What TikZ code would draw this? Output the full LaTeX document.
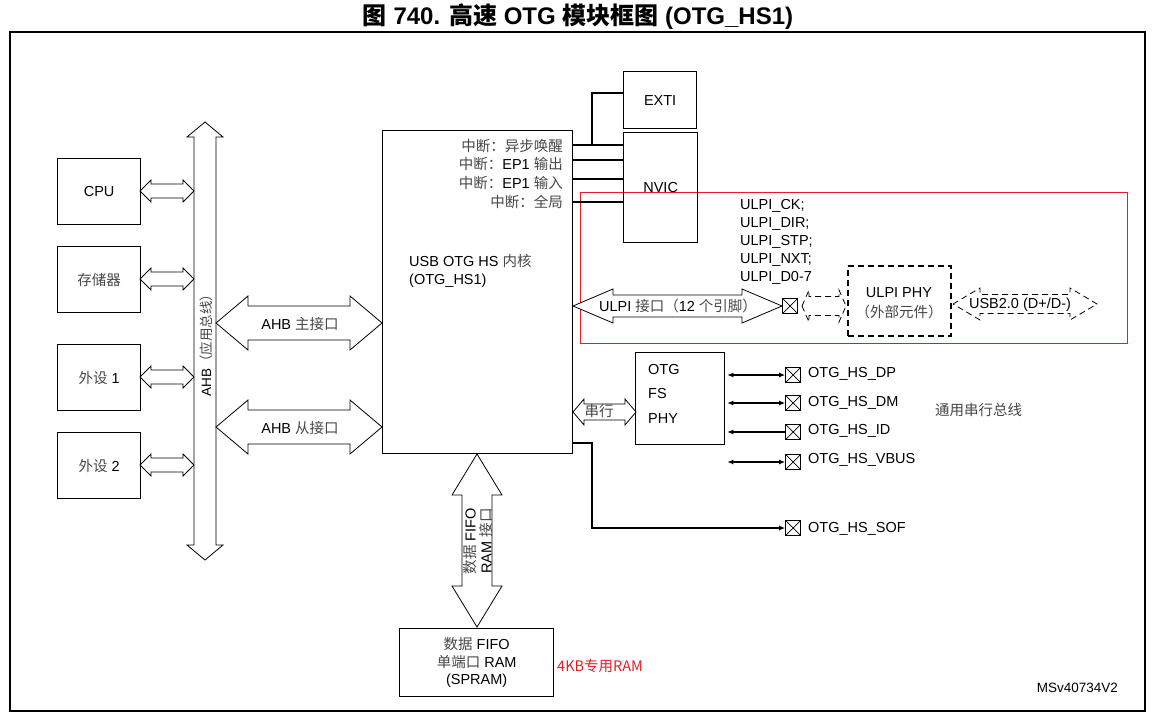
\documentclass[tikz,border=0pt]{standalone}
\usepackage{fontspec}
\setmainfont{Liberation Sans}
\newfontfamily\cjk{Noto Sans CJK SC}
\usetikzlibrary{arrows.meta}
\newcommand\zh[1]{{\cjk\color{black!72}#1}}
\newcommand\zhb[1]{{\cjk #1}}
\definecolor{redbox}{RGB}{228,30,36}
% horizontal fat double arrow: [opt]{x1}{x2}{y}{shaft half}{head half}{head length}
\newcommand\fatH[7][]{%
  \draw[fat,#1] (#2,#4) -- ({#2+#7},{#4-#6}) -- ({#2+#7},{#4-#5}) -- ({#3-#7},{#4-#5})
    -- ({#3-#7},{#4-#6}) -- (#3,#4) -- ({#3-#7},{#4+#6}) -- ({#3-#7},{#4+#5})
    -- ({#2+#7},{#4+#5}) -- ({#2+#7},{#4+#6}) -- cycle;}
% vertical fat double arrow: [opt]{x}{y1}{y2}{shaft half}{head half}{head length}
\newcommand\fatV[7][]{%
  \draw[fat,#1] (#2,#3) -- ({#2+#6},{#3+#7}) -- ({#2+#5},{#3+#7}) -- ({#2+#5},{#4-#7})
    -- ({#2+#6},{#4-#7}) -- (#2,#4) -- ({#2-#6},{#4-#7}) -- ({#2-#5},{#4-#7})
    -- ({#2-#5},{#3+#7}) -- ({#2-#6},{#3+#7}) -- cycle;}
\begin{document}
\begin{tikzpicture}[x=1pt,y=-1pt,
  font=\fontsize{14.5}{17}\selectfont,
  >={Latex[length=6pt,width=5pt]},
  box/.style={draw, line width=1.3pt, inner sep=0pt, anchor=north west},
  fat/.style={draw, line width=0.8pt, fill=white},
  pinbox/.style={draw, line width=0.9pt, minimum size=15pt, inner sep=0pt,
    path picture={\draw[line width=0.7pt] (path picture bounding box.south west) -- (path picture bounding box.north east)
      (path picture bounding box.north west) -- (path picture bounding box.south east);}},
  lbl/.style={inner sep=0pt},
  wire/.style={line width=1.1pt},
  dsh/.style={dash pattern=on 6pt off 4pt}
]
\useasboundingbox (0,0) rectangle (1155,725);
\fill[white] (0,0) rectangle (1155,725);

% title and frame
\node[lbl, font=\fontsize{24}{28}\selectfont\bfseries] (title) at (578,17)
  {\zhb{图} 740. \zhb{高速} OTG \zhb{模块框图} (OTG\_HS1)};
\draw[line width=1.6pt] (10,32) rectangle (1145,711);

% red highlight
\draw[redbox, line width=1pt] (580,192) rectangle (1127,343);

% left boxes
\node[box, minimum width=83pt, minimum height=66pt] (cpu) at (57,158) {CPU};
\node[box, minimum width=83pt, minimum height=66pt] (mem) at (57,246) {\zh{存储器}};
\node[box, minimum width=83pt, minimum height=66pt] (p1) at (57,344) {\zh{外设} 1};
\node[box, minimum width=83pt, minimum height=66pt] (p2) at (57,432) {\zh{外设} 2};

% small arrows to the bus
\fatH{140}{194}{191}{7}{11}{11}
\fatH{140}{194}{279}{7}{11}{11}
\fatH{140}{194}{377}{7}{11}{11}
\fatH{140}{194}{465}{7}{11}{11}

% AHB bus
\fatV{205}{122}{560}{11}{18}{15}
\node[lbl, rotate=90, font=\fontsize{13.5}{16}\selectfont] (ahb) at (206,342) {AHB\zh{（应用总线）}};

% core
\node[box, minimum width=190pt, minimum height=323pt] (core) at (382,130) {};
\node[lbl, anchor=west] (core1) at (409,261) {USB OTG HS \zh{内核}};
\node[lbl, anchor=west] (core2) at (409,281) {(OTG\_HS1)};

% AHB master / slave
\fatH{216}{382}{323}{17}{27}{32}
\node[lbl] (ahbm) at (300,324) {AHB \zh{主接口}};
\fatH{216}{382}{427}{17}{27}{32}
\node[lbl] (ahbs) at (300,428) {AHB \zh{从接口}};

% interrupts
\node[lbl, anchor=east] (i1) at (563,146) {\zh{中断：异步唤醒}};
\node[lbl, anchor=east] (i2) at (563,164) {\zh{中断：}EP1 \zh{输出}};
\node[lbl, anchor=east] (i3) at (563,183) {\zh{中断：}EP1 \zh{输入}};
\node[lbl, anchor=east] (i4) at (563,202) {\zh{中断：全局}};

\node[box, minimum width=73pt, minimum height=57pt] (exti) at (623,71) {EXTI};
\node[box, minimum width=74pt, minimum height=110pt] (nvic) at (623,132) {NVIC};

\draw[wire] (core.east |- 0,145) -- (nvic.west |- 0,145);
\draw[wire] (core.east |- 0,160) -- (nvic.west |- 0,160);
\draw[wire] (core.east |- 0,179) -- (nvic.west |- 0,179);
\draw[wire] (core.east |- 0,202) -- (nvic.west |- 0,202);
\draw[wire] (592,145) -- (592,93) -- (exti.west |- 0,93);

% ULPI
\node[lbl, anchor=west] (u1) at (740,206) {ULPI\_CK;};
\node[lbl, anchor=west] (u2) at (740,224) {ULPI\_DIR;};
\node[lbl, anchor=west] (u3) at (740,242) {ULPI\_STP;};
\node[lbl, anchor=west] (u4) at (740,260) {ULPI\_NXT;};
\node[lbl, anchor=west] (u5) at (740,278) {ULPI\_D0-7};

\fatH{573}{782}{306}{11}{17}{40}
\node[lbl] (ulpil) at (678,306) {ULPI \zh{接口（}12 \zh{个引脚）}};
\node[pinbox] (pulpi) at (790,306) {};
\fatH[dsh]{802}{846}{306}{9.5}{16}{7}
\node[box, dsh, line width=1.6pt, minimum width=103pt, minimum height=70pt] (uphy) at (847,265) {};
\node[lbl] (uphy1) at (899,293) {ULPI PHY};
\node[lbl] (uphy2) at (899,312) {\zh{（外部元件）}};
\fatH[dsh]{953}{1097}{304}{9.5}{16}{27}
\node[lbl] (usb) at (1020,305) {USB2.0 (D+/D-)};

% OTG FS PHY
\node[box, minimum width=89pt, minimum height=92pt] (fsphy) at (635,352) {};
\node[lbl, anchor=west] (f1) at (648,370) {OTG};
\node[lbl, anchor=west] (f2) at (648,394) {FS};
\node[lbl, anchor=west] (f3) at (648,419) {PHY};
\fatH{573}{636}{412}{8}{13}{11}
\node[lbl] (serial) at (599,411) {\zh{串行}};

\node[pinbox] (pDP) at (793,375) {};
\node[pinbox] (pDM) at (793,403) {};
\node[pinbox] (pID) at (793,432) {};
\node[pinbox] (pVB) at (793,462) {};
\node[pinbox] (pSOF) at (793,528) {};
\node[lbl, anchor=west] (lDP) at (808,374) {OTG\_HS\_DP};
\node[lbl, anchor=west] (lDM) at (808,403) {OTG\_HS\_DM};
\node[lbl, anchor=west] (lID) at (808,431) {OTG\_HS\_ID};
\node[lbl, anchor=west] (lVB) at (808,460) {OTG\_HS\_VBUS};
\node[lbl, anchor=west] (lSOF) at (808,529) {OTG\_HS\_SOF};

\draw[wire, <->, shorten <=2pt] (fsphy.east |- pDP) -- (pDP.west);
\draw[wire, <->, shorten <=2pt] (fsphy.east |- pDM) -- (pDM.west);
\draw[wire, <-, shorten <=2pt] (fsphy.east |- pID) -- (pID.west);
\draw[wire, <->, shorten <=2pt] (fsphy.east |- pVB) -- (pVB.west);
\draw[wire, ->] (core.east |- 0,443) -- (592,443) -- (592,0 |- pSOF) -- (pSOF.west);

\node[lbl, anchor=west] (usbgen) at (935,410) {\zh{通用串行总线}};

% FIFO
\fatV{477}{454}{627}{15}{25}{41}
\node[lbl, rotate=90, align=center, font=\fontsize{14.5}{16}\selectfont] (fifol) at (478,541) {\zh{数据} FIFO\\RAM \zh{接口}};
\node[box, minimum width=154pt, minimum height=68pt, align=center, font=\fontsize{14.5}{17.5}\selectfont] (ram) at (399,628)
  {\zh{数据} FIFO\\\zh{单端口} RAM\\(SPRAM)};
\node[lbl, anchor=west, text=redbox] (ram4k) at (557,666) {\zhb{4KB专用RAM}};

\node[lbl, anchor=east, font=\fontsize{13.5}{16}\selectfont] (msv) at (1118,688) {MSv40734V2};
\end{tikzpicture}
\end{document}
